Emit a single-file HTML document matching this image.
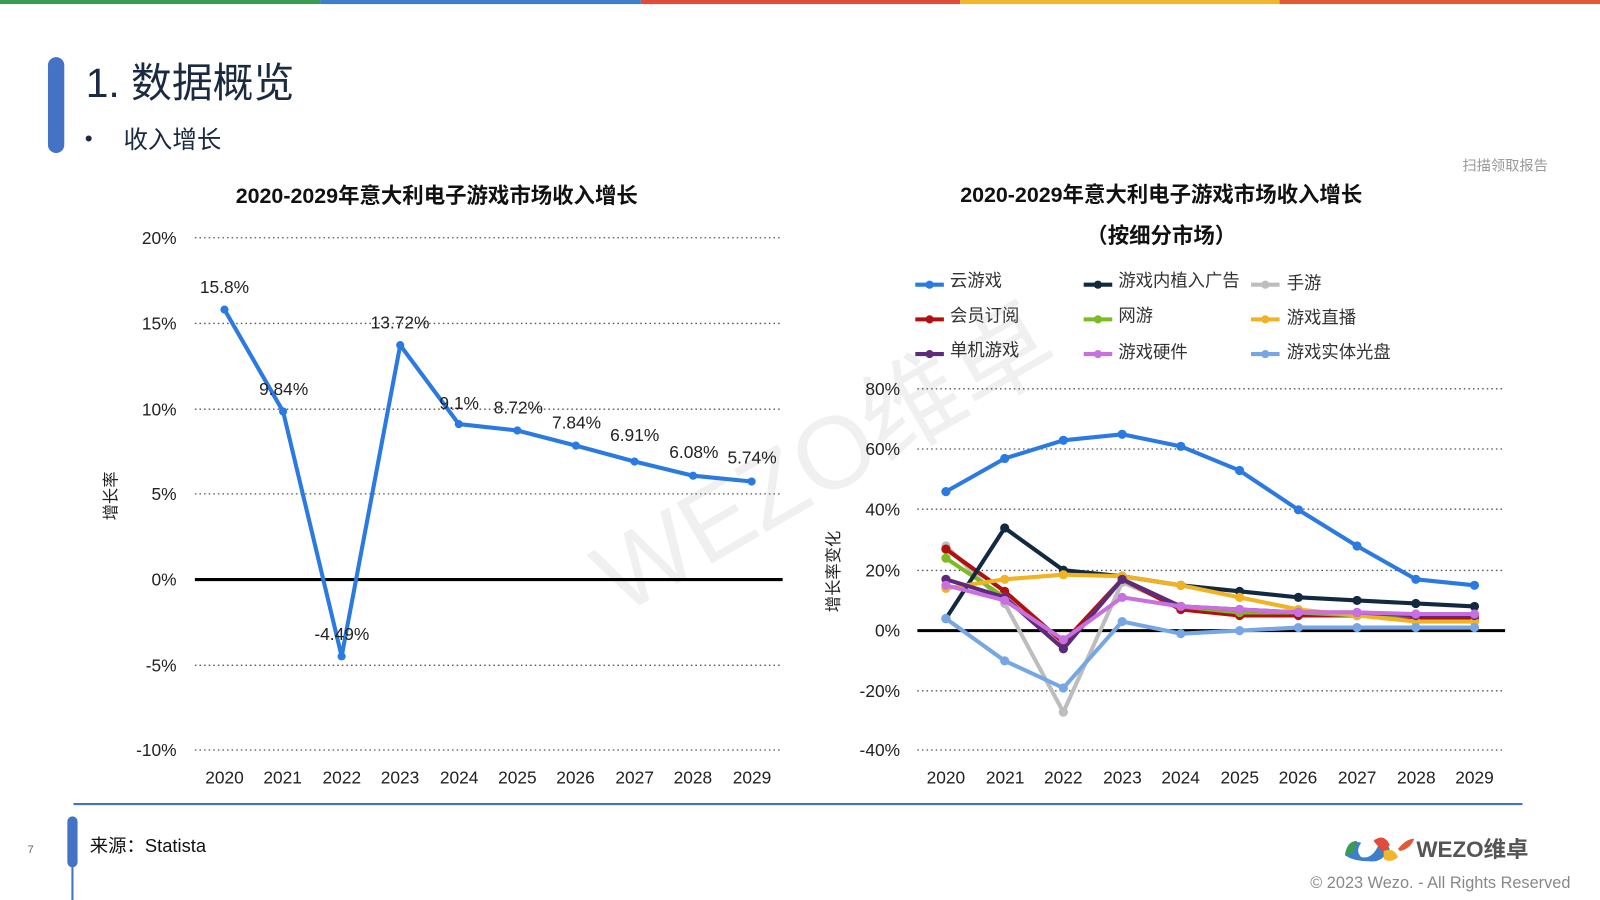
<!DOCTYPE html>
<html><head><meta charset="utf-8"><style>
body{margin:0;width:1600px;height:900px;overflow:hidden;background:#fff;font-family:"Liberation Sans","Noto Sans CJK SC",sans-serif;}
svg{position:absolute;left:0;top:0}
</style></head><body>
<svg width="1600" height="900" viewBox="0 0 1568 882" font-family="Liberation Sans, Noto Sans CJK SC, sans-serif">
<defs>
<marker id="mA" markerWidth="10" markerHeight="10" refX="5" refY="5" markerUnits="userSpaceOnUse"><circle cx="5" cy="5" r="4" fill="#2a7ae2"/></marker>
<marker id="m1" markerWidth="10" markerHeight="10" refX="5" refY="5" markerUnits="userSpaceOnUse"><circle cx="5" cy="5" r="4.5" fill="#2a7ae2"/></marker>
<marker id="m2" markerWidth="10" markerHeight="10" refX="5" refY="5" markerUnits="userSpaceOnUse"><circle cx="5" cy="5" r="4.5" fill="#13293f"/></marker>
<marker id="m3" markerWidth="10" markerHeight="10" refX="5" refY="5" markerUnits="userSpaceOnUse"><circle cx="5" cy="5" r="4.5" fill="#bdbdbd"/></marker>
<marker id="m4" markerWidth="10" markerHeight="10" refX="5" refY="5" markerUnits="userSpaceOnUse"><circle cx="5" cy="5" r="4.5" fill="#b01010"/></marker>
<marker id="m5" markerWidth="10" markerHeight="10" refX="5" refY="5" markerUnits="userSpaceOnUse"><circle cx="5" cy="5" r="4.5" fill="#7cbb22"/></marker>
<marker id="m6" markerWidth="10" markerHeight="10" refX="5" refY="5" markerUnits="userSpaceOnUse"><circle cx="5" cy="5" r="4.5" fill="#f0b323"/></marker>
<marker id="m7" markerWidth="10" markerHeight="10" refX="5" refY="5" markerUnits="userSpaceOnUse"><circle cx="5" cy="5" r="4.5" fill="#5e2a7e"/></marker>
<marker id="m8" markerWidth="10" markerHeight="10" refX="5" refY="5" markerUnits="userSpaceOnUse"><circle cx="5" cy="5" r="4.5" fill="#c970e0"/></marker>
<marker id="m9" markerWidth="10" markerHeight="10" refX="5" refY="5" markerUnits="userSpaceOnUse"><circle cx="5" cy="5" r="4.5" fill="#76a6e4"/></marker>
</defs>
<!-- top bar -->
<rect x="0" y="0" width="314" height="4" fill="#3a9c50"/>
<rect x="314" y="0" width="314" height="4" fill="#3d7fcc"/>
<rect x="628" y="0" width="313" height="4" fill="#e04b3a"/>
<rect x="941" y="0" width="313" height="4" fill="#f1b52e"/>
<rect x="1254" y="0" width="346" height="4" fill="#e05a35"/>
<!-- header -->
<rect x="47" y="56" width="16" height="94" rx="8" fill="#4472c4"/>
<text x="84" y="95" font-size="40" fill="#1a2a40">1. 数据概览</text>
<text x="83" y="143" font-size="22" fill="#1a2a40">•</text>
<text x="121" y="145" font-size="24" fill="#1a2a40">收入增长</text>
<text x="1517" y="167" font-size="14" fill="#999" text-anchor="end">扫描领取报告</text>
<!-- watermark -->
<text x="820" y="480" font-size="100" fill="#f0f0f0" text-anchor="middle" transform="rotate(-30 820 470)">WEZO维卓</text>

<!-- LEFT CHART -->
<text x="428" y="199" font-size="21" font-weight="bold" fill="#111" text-anchor="middle">2020-2029年意大利电子游戏市场收入增长</text>
<g stroke="#555" stroke-width="1.3" stroke-dasharray="1.5 3">
<line x1="191" y1="233" x2="767" y2="233"/><line x1="191" y1="317" x2="767" y2="317"/><line x1="191" y1="401" x2="767" y2="401"/><line x1="191" y1="484" x2="767" y2="484"/><line x1="191" y1="652" x2="767" y2="652"/><line x1="191" y1="735" x2="767" y2="735"/>
</g>
<line x1="191" y1="568" x2="767" y2="568" stroke="#000" stroke-width="3"/>
<g font-size="17" fill="#222" text-anchor="end">
<text x="173" y="239">20%</text><text x="173" y="323">15%</text><text x="173" y="407">10%</text><text x="173" y="490">5%</text><text x="173" y="574">0%</text><text x="173" y="658">-5%</text><text x="173" y="741">-10%</text>
</g>
<g font-size="17" fill="#222" text-anchor="middle">
<text x="220" y="768">2020</text><text x="277" y="768">2021</text><text x="335" y="768">2022</text><text x="392" y="768">2023</text><text x="450" y="768">2024</text><text x="507" y="768">2025</text><text x="564" y="768">2026</text><text x="622" y="768">2027</text><text x="679" y="768">2028</text><text x="737" y="768">2029</text>
</g>
<text x="114" y="486" font-size="16" fill="#222" text-anchor="middle" transform="rotate(-90 114 486)">增长率</text>
<polyline fill="none" stroke="#2a7ae2" stroke-width="4" stroke-linejoin="round" marker-start="url(#mA)" marker-mid="url(#mA)" marker-end="url(#mA)" points="220,303.4 277.4,403.2 334.8,643.2 392.2,338.2 449.6,415.6 507,421.9 564.4,436.7 621.8,452.3 679.2,466.2 736.6,471.9"/>
<g font-size="17" fill="#222" text-anchor="middle">
<text x="220" y="287">15.8%</text><text x="278" y="387">9.84%</text><text x="335" y="627">-4.49%</text><text x="392" y="322">13.72%</text><text x="450" y="401">9.1%</text><text x="508" y="405">8.72%</text><text x="565" y="420">7.84%</text><text x="622" y="432">6.91%</text><text x="680" y="449">6.08%</text><text x="737" y="454">5.74%</text>
</g>

<!-- RIGHT CHART -->
<text x="1138" y="198" font-size="21" fill="#111" text-anchor="middle" font-weight="bold">2020-2029年意大利电子游戏市场收入增长</text>
<text x="1138" y="238" font-size="21" fill="#111" text-anchor="middle" font-weight="bold">（按细分市场）</text>
<g font-size="17" fill="#333">
<line x1="897" y1="279" x2="925" y2="279" stroke="#2a7ae2" stroke-width="4"/><circle cx="911" cy="279" r="4" fill="#2a7ae2"/><text x="931" y="281">云游戏</text>
<line x1="1062" y1="279" x2="1090" y2="279" stroke="#13293f" stroke-width="4"/><circle cx="1076" cy="279" r="4" fill="#13293f"/><text x="1096" y="281">游戏内植入广告</text>
<line x1="1226" y1="279" x2="1254" y2="279" stroke="#bdbdbd" stroke-width="4"/><circle cx="1240" cy="279" r="4" fill="#bdbdbd"/><text x="1261" y="283">手游</text>
<line x1="897" y1="313" x2="925" y2="313" stroke="#b01010" stroke-width="4"/><circle cx="911" cy="313" r="4" fill="#b01010"/><text x="931" y="315">会员订阅</text>
<line x1="1062" y1="313" x2="1090" y2="313" stroke="#7cbb22" stroke-width="4"/><circle cx="1076" cy="313" r="4" fill="#7cbb22"/><text x="1096" y="315">网游</text>
<line x1="1226" y1="313" x2="1254" y2="313" stroke="#f0b323" stroke-width="4"/><circle cx="1240" cy="313" r="4" fill="#f0b323"/><text x="1261" y="317">游戏直播</text>
<line x1="897" y1="347" x2="925" y2="347" stroke="#5e2a7e" stroke-width="4"/><circle cx="911" cy="347" r="4" fill="#5e2a7e"/><text x="931" y="349">单机游戏</text>
<line x1="1062" y1="347" x2="1090" y2="347" stroke="#c970e0" stroke-width="4"/><circle cx="1076" cy="347" r="4" fill="#c970e0"/><text x="1096" y="351">游戏硬件</text>
<line x1="1226" y1="347" x2="1254" y2="347" stroke="#76a6e4" stroke-width="4"/><circle cx="1240" cy="347" r="4" fill="#76a6e4"/><text x="1261" y="351">游戏实体光盘</text>
</g>
<g stroke="#555" stroke-width="1.3" stroke-dasharray="1.5 3">
<line x1="899" y1="381" x2="1475" y2="381"/><line x1="899" y1="440" x2="1475" y2="440"/><line x1="899" y1="499" x2="1475" y2="499"/><line x1="899" y1="559" x2="1475" y2="559"/><line x1="899" y1="677" x2="1475" y2="677"/><line x1="899" y1="735" x2="1475" y2="735"/>
</g>
<line x1="899" y1="618" x2="1475" y2="618" stroke="#000" stroke-width="3"/>
<g font-size="17" fill="#222" text-anchor="end">
<text x="882" y="387">80%</text><text x="882" y="446">60%</text><text x="882" y="505">40%</text><text x="882" y="565">20%</text><text x="882" y="624">0%</text><text x="882" y="683">-20%</text><text x="882" y="741">-40%</text>
</g>
<g font-size="17" fill="#222" text-anchor="middle">
<text x="927" y="768">2020</text><text x="985" y="768">2021</text><text x="1042" y="768">2022</text><text x="1100" y="768">2023</text><text x="1157" y="768">2024</text><text x="1215" y="768">2025</text><text x="1272" y="768">2026</text><text x="1330" y="768">2027</text><text x="1388" y="768">2028</text><text x="1445" y="768">2029</text>
</g>
<text x="822" y="560" font-size="16" fill="#222" text-anchor="middle" transform="rotate(-90 822 560)">增长率变化</text>
<g fill="none" stroke-width="4" stroke-linejoin="round">
<polyline stroke="#bdbdbd" marker-start="url(#m3)" marker-mid="url(#m3)" marker-end="url(#m3)" points="927,535.1 984.6,591.4 1042.1,697.9 1099.7,570.6 1157.2,594.3 1214.8,597.3 1272.4,600.2 1329.9,603.2 1387.5,603.2 1445,603.2"/>
<polyline stroke="#b01010" marker-start="url(#m4)" marker-mid="url(#m4)" marker-end="url(#m4)" points="927,538.1 984.6,579.5 1042.1,629.8 1099.7,567.7 1157.2,597.3 1214.8,603.2 1272.4,603.2 1329.9,603.2 1387.5,606.2 1445,606.2"/>
<polyline stroke="#7cbb22" marker-start="url(#m5)" marker-mid="url(#m5)" marker-end="url(#m5)" points="927,547 984.6,585.4 1042.1,635.8 1099.7,567.7 1157.2,594.3 1214.8,600.2 1272.4,600.2 1329.9,603.2 1387.5,603.2 1445,603.2"/>
<polyline stroke="#13293f" marker-start="url(#m2)" marker-mid="url(#m2)" marker-end="url(#m2)" points="927,606.2 984.6,517.4 1042.1,558.8 1099.7,564.7 1157.2,573.6 1214.8,579.5 1272.4,585.4 1329.9,588.4 1387.5,591.4 1445,594.3"/>
<polyline stroke="#f0b323" marker-start="url(#m6)" marker-mid="url(#m6)" marker-end="url(#m6)" points="927,576.6 984.6,567.7 1042.1,563.2 1099.7,564.7 1157.2,573.6 1214.8,585.4 1272.4,597.3 1329.9,603.2 1387.5,609.1 1445,609.1"/>
<polyline stroke="#76a6e4" marker-start="url(#m9)" marker-mid="url(#m9)" marker-end="url(#m9)" points="927,606.2 984.6,647.6 1042.1,674.2 1099.7,609.1 1157.2,621 1214.8,618 1272.4,615 1329.9,615 1387.5,615 1445,615"/>
<polyline stroke="#5e2a7e" marker-start="url(#m7)" marker-mid="url(#m7)" marker-end="url(#m7)" points="927,567.7 984.6,585.4 1042.1,635.8 1099.7,567.7 1157.2,594.3 1214.8,597.3 1272.4,600.2 1329.9,600.2 1387.5,603.2 1445,603.2"/>
<polyline stroke="#c970e0" marker-start="url(#m8)" marker-mid="url(#m8)" marker-end="url(#m8)" points="927,573.6 984.6,588.4 1042.1,626.9 1099.7,585.4 1157.2,594.3 1214.8,597.3 1272.4,600.2 1329.9,600.2 1387.5,601.7 1445,601.7"/>
<polyline stroke="#2a7ae2" marker-start="url(#m1)" marker-mid="url(#m1)" marker-end="url(#m1)" points="927,481.8 984.6,449.3 1042.1,431.5 1099.7,425.6 1157.2,437.4 1214.8,461.1 1272.4,499.6 1329.9,535.1 1387.5,567.7 1445,573.6"/>
</g>

<!-- footer -->
<line x1="72" y1="788" x2="1492" y2="788" stroke="#4472c4" stroke-width="2"/>
<rect x="66" y="800" width="10" height="50" rx="5" fill="#4472c4"/>
<line x1="71" y1="845" x2="71" y2="900" stroke="#4472c4" stroke-width="2"/>
<text x="27" y="836" font-size="11" fill="#666">7</text>
<text x="88" y="835" font-size="18" fill="#111">来源：Statista</text>
<path d="M1318 838 q6 -16 16 -12 q-6 8 0 14 q10 2 16 -10 q6 -10 12 2 q-8 14 -20 12 q-16 0 -24 -6z" fill="#3d7fcc"/>
<path d="M1318 838 q2 -14 12 -14 l-4 12z" fill="#3a9c50"/>
<path d="M1346 824 q10 -8 16 4 l-6 8z" fill="#e04b3a"/>
<path d="M1356 834 q10 -4 14 6 q-6 6 -14 2z" fill="#f1b52e"/>
<path d="M1370 832 q8 -10 16 -10 q-4 10 -14 12z" fill="#e05a35"/>
<text x="1388" y="840" font-size="22" font-weight="bold" fill="#555">WEZO维卓</text>
<text x="1539" y="870" font-size="16" fill="#888" text-anchor="end">© 2023 Wezo. - All Rights Reserved</text>
</svg>
</body></html>
